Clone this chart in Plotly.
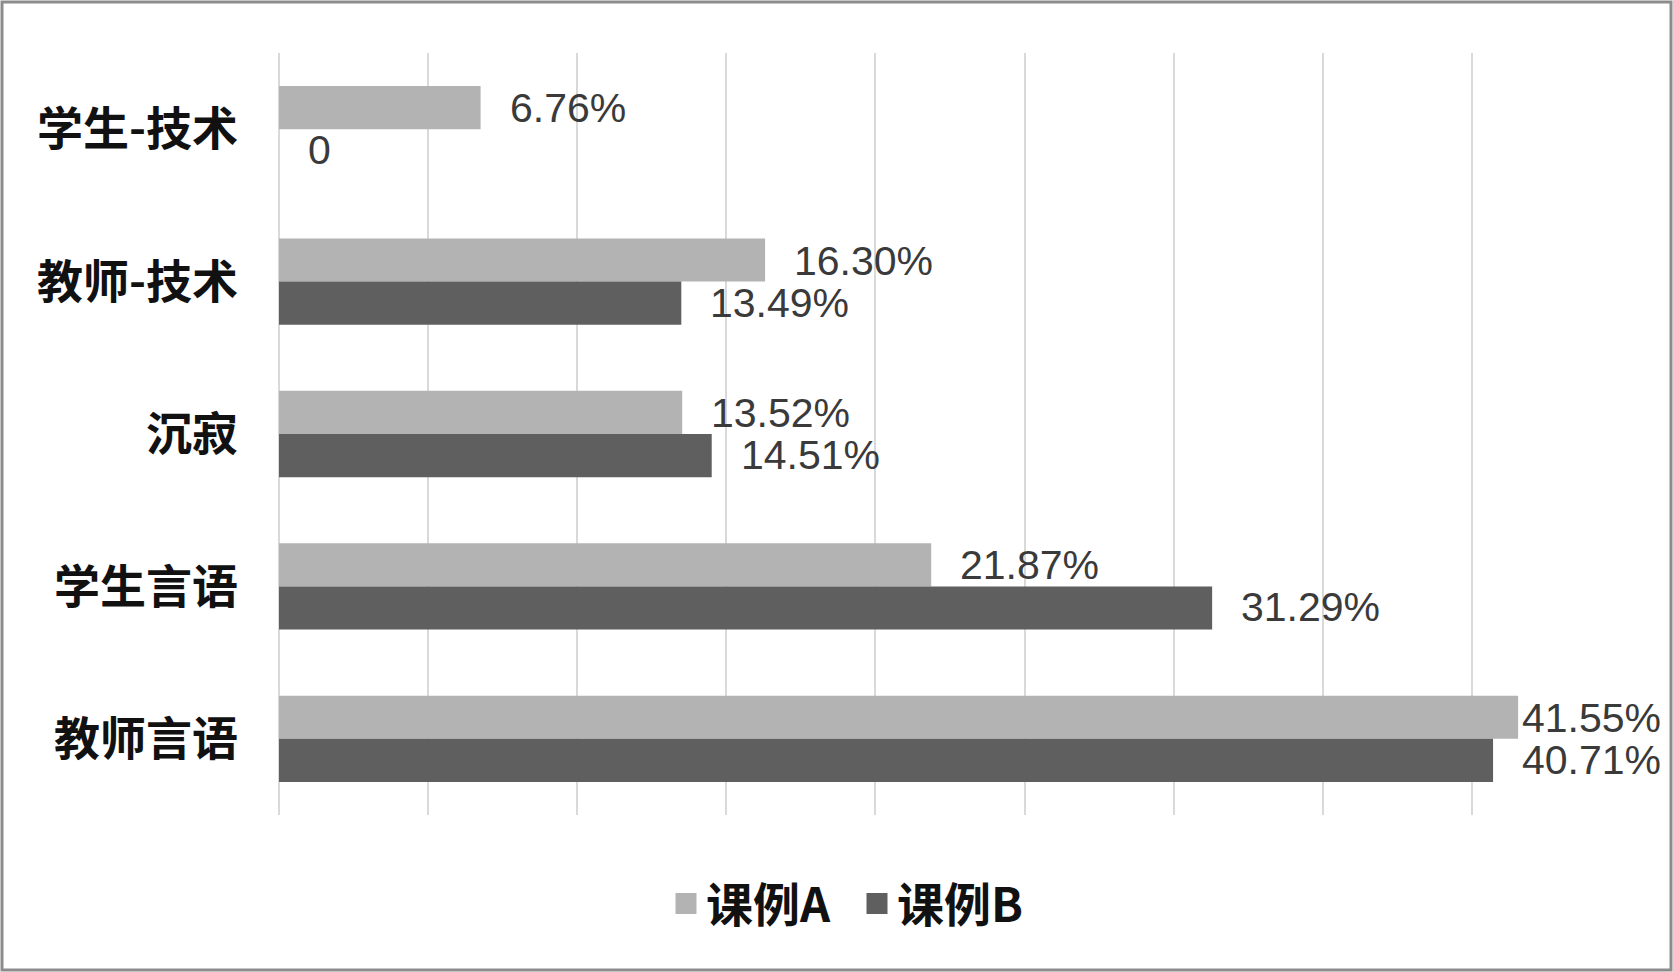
import plotly.graph_objects as go

categories = ["学生-技术", "教师-技术", "沉寂", "学生言语", "教师言语"]
series_names = ["课例A", "课例B"]
values_a = [6.76, 16.30, 13.52, 21.87, 41.55]
values_b = [0, 13.49, 14.51, 31.29, 40.71]
colors = ["#b3b3b3", "#5f5f5f"]

W, H = 1673, 972
ML, MR, MT, MB = 279, 52, 53, 157
PW, PH = W - ML - MR, H - MT - MB
X_MAX = 45
PX_PER_UNIT = PW / X_MAX
LABEL_GAP = 27          # px between bar end and its label
LABEL_MAX_LEFT = 1241   # px (from plot left) so the label stays inside the frame


def fmt(v):
    return "0" if v == 0 else f"{v:.2f}%"


fig = go.Figure()
for name, vals, col in zip(series_names, [values_a, values_b], colors):
    fig.add_trace(go.Bar(
        y=categories, x=vals, name=name, orientation="h",
        marker=dict(color=col, line=dict(width=0)), showlegend=False,
    ))
# legend entries with larger square swatches
for name, col in zip(series_names, colors):
    fig.add_trace(go.Scatter(
        x=[None], y=[None], mode="markers", name=name,
        marker=dict(symbol="square", size=16, color=col, line=dict(color=col, width=5)),
        showlegend=True,
    ))

annotations = []
bar_half = 21
for vals, ys in [(values_a, bar_half), (values_b, -bar_half)]:
    for cat, v in zip(categories, vals):
        left_px = min(v * PX_PER_UNIT + LABEL_GAP, LABEL_MAX_LEFT)
        annotations.append(dict(
            x=v, y=cat, xref="x", yref="y", text=fmt(v), showarrow=False,
            xanchor="left", yanchor="middle",
            xshift=left_px - v * PX_PER_UNIT, yshift=ys,
            font=dict(family="Liberation Sans, Arial", size=41, color="#3a3a3a"),
        ))

fig.update_layout(
    width=W, height=H,
    margin=dict(l=ML, r=MR, t=MT, b=MB, pad=0),
    paper_bgcolor="white", plot_bgcolor="white",
    barmode="group", bargap=0.434, bargroupgap=0,
    annotations=annotations,
    showlegend=True,
    legend=dict(orientation="h", x=(857 - ML) / PW, xanchor="center", y=-89 / PH, yanchor="middle",
                font=dict(family="Noto Sans CJK SC", size=47, color="#111111", weight="bold"),
                traceorder="normal", itemwidth=30, entrywidth=146),
    xaxis=dict(range=[0, X_MAX], dtick=5, tick0=0, showticklabels=False, showgrid=True,
               gridcolor="#d9d9d9", gridwidth=2, zeroline=True, zerolinecolor="#d9d9d9",
               zerolinewidth=2, showline=False, ticks=""),
    yaxis=dict(autorange="reversed", showgrid=False, ticks="", showline=False,
               ticklabelstandoff=40,
               tickfont=dict(family="Noto Sans CJK SC", size=46, color="#111111", weight="bold")),
    shapes=[dict(type="rect", xref="paper", yref="paper",
                 x0=(2 - ML) / PW, x1=(W - 2 - ML) / PW,
                 y0=(H - (H - 2) - MB) / PH, y1=(H - 2 - MB) / PH,
                 line=dict(color="#8c8c8c", width=3), fillcolor="rgba(0,0,0,0)", layer="above")],
)

fig.write_html("out.html", config={"displayModeBar": False},
               post_script="document.body.style.margin='0';")
